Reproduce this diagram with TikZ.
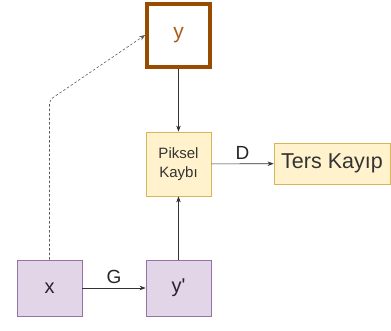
\documentclass[tikz,border=0pt]{standalone}
\usepackage{fontspec}
\setmainfont{Liberation Sans}
\usetikzlibrary{arrows.meta}
\definecolor{purfill}{HTML}{E1D5E7}
\definecolor{purline}{HTML}{9673A6}
\definecolor{yelfill}{HTML}{FFF2CC}
\definecolor{yelline}{HTML}{D6B656}
\definecolor{brownline}{HTML}{994C00}
\definecolor{browntext}{HTML}{A85E1E}
\definecolor{edgecol}{HTML}{333333}
\begin{document}
\begin{tikzpicture}[x=1pt,y=-1pt,
  purbox/.style={draw=purline,fill=purfill,line width=0.8pt,minimum width=65pt,minimum height=56pt,inner sep=0pt,font=\fontsize{20}{22}\selectfont,text=black!85},
  yelbox/.style={draw=yelline,fill=yelfill,line width=0.8pt,inner sep=0pt,text=black!80},
  conn/.style={draw=edgecol,line width=0.6pt,-{Stealth[length=6pt,width=4.5pt]}},
  lab/.style={font=\fontsize{19}{21}\selectfont,text=black!85}]
\useasboundingbox (0,0) rectangle (391,331);
\node[draw=brownline,line width=3.6pt,fill=white,minimum width=63pt,minimum height=63pt,inner sep=0pt,font=\fontsize{21}{22}\selectfont,text=browntext] (y) at (178.5,35.5) {\raisebox{-2pt}{y}};
\node[yelbox,minimum width=65pt,minimum height=64pt,font=\fontsize{15}{19}\selectfont,align=center] (pk) at (178.5,164) {Piksel\\Kaybı};
\node[yelbox,minimum width=116pt,minimum height=41pt,font=\fontsize{21.5}{23}\selectfont] (tk) at (332,163.5) {Ters Kayıp};
\node[purbox] (x) at (49.5,288) {x};
\node[purbox] (yp) at (178.5,288) {y\textquotesingle};
\coordinate (bend) at (49.5,100);
\draw[conn] (y) -- (pk);
\draw[conn] (yp) -- (pk);
\draw[conn] (pk) -- node[lab,above=1pt] {D} (tk);
\draw[conn] (x) -- node[lab,above=1pt] {G} (yp);
\draw[draw=edgecol!80,line width=0.6pt,dash pattern=on 2.5pt off 2pt,rounded corners=4pt,-{Stealth[length=6pt,width=4.5pt]}] (x.north) -- (bend) -- ([yshift=0.5pt]y.west);
\end{tikzpicture}
\end{document}
